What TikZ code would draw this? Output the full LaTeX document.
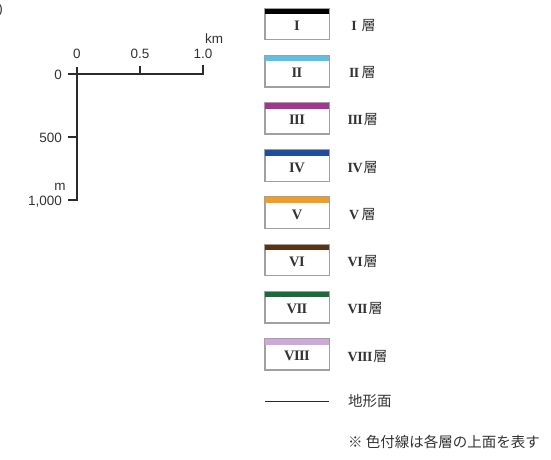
\documentclass[tikz,border=0pt]{standalone}
\usepackage{fontspec}
\setmainfont{Liberation Sans}
\newfontfamily\jp{Noto Sans CJK JP}
\newfontfamily\rom[LetterSpace=-4]{Liberation Serif}
\newsavebox\numbx
\newcommand\numcell[1]{\sbox\numbx{\rom\bfseries#1}\ifdim\wd\numbx<13pt\makebox[13pt][c]{\usebox\numbx}\else\usebox\numbx\fi}
\definecolor{axisgray}{HTML}{2B2B2B}
\definecolor{boxgray}{HTML}{A0A0A0}
\definecolor{txtgray}{HTML}{333333}
\definecolor{cI}{HTML}{000000}
\definecolor{cII}{HTML}{5BC2E7}
\definecolor{cIII}{HTML}{A2378F}
\definecolor{cIV}{HTML}{1F4E9F}
\definecolor{cV}{HTML}{EF9E22}
\definecolor{cVI}{HTML}{5A3216}
\definecolor{cVII}{HTML}{1A6B37}
\definecolor{cVIII}{HTML}{CDA9D9}
\begin{document}
\begin{tikzpicture}[x=1pt,y=-1pt,
  axis/.style={line width=1.3pt,draw=axisgray},
  ticklbl/.style={font=\fontsize{13.5}{13.5}\selectfont,text=txtgray,inner sep=0pt},
  legbox/.style={draw=boxgray,line width=0.8pt,minimum width=64pt,minimum height=31pt,inner sep=0pt,fill=white},
  boxlbl/.style={font=\rom\bfseries\fontsize{14.5}{14.5}\selectfont,text=txtgray,inner sep=0pt},
  leglbl/.style={font=\fontsize{14}{14}\selectfont,text=txtgray,anchor=west,inner sep=0pt},
  note/.style={font=\jp\fontsize{14.5}{14.5}\selectfont,text=txtgray,anchor=west,inner sep=0pt}]
\useasboundingbox (0,0) rectangle (551,459);
% cut-off mark at top left
\node[ticklbl,anchor=east] (cut) at (3,10) {)};
% axes
\coordinate (o) at (77,74);
\coordinate (vtop) at (77,67);
\coordinate (vbot) at (77,200);
\coordinate (vbottick) at (68,200);
\coordinate (hleft) at (68,74);
\coordinate (hright) at (203,74);
\coordinate (hrighttick) at (203,65);
\coordinate (hmid) at (140,74);
\coordinate (hmidtick) at (140,66);
\coordinate (v500) at (77,137);
\coordinate (v500tick) at (68,137);
\draw[axis] (vtop) -- (vbot) -- (vbottick);
\draw[axis] (hleft) -- (hright) -- (hrighttick);
\draw[axis] (hmid) -- (hmidtick);
\draw[axis] (v500) -- (v500tick);
\node[ticklbl] (x0) at (77,54) {0};
\node[ticklbl] (x05) at (140,54) {0.5};
\node[ticklbl] (x10) at (203,54) {1.0};
\node[ticklbl] (km) at (214,39) {km};
\node[ticklbl,anchor=east] (y0) at (62,75) {0};
\node[ticklbl,anchor=east] (y500) at (62,138) {500};
\node[ticklbl] (m) at (60,187) {m};
\node[ticklbl,anchor=east] (y1000) at (62,202) {1,000};
% legend
\foreach \k/\c/\n in {0/cI/I,1/cII/II,2/cIII/III,3/cIV/IV,4/cV/V,5/cVI/VI,6/cVII/VII,7/cVIII/VIII}{
  \pgfmathsetmacro{\t}{8.3+47.2*\k}
  \node[legbox] (box\k) at (297,\t+15.5) {};
  \fill[\c] (box\k.north west) rectangle ([yshift=-6.3pt]box\k.north east);
  \draw[boxgray,line width=0.8pt] (box\k.north west) rectangle (box\k.south east);
  \node[boxlbl] (bl\k) at (297,\t+17.5) {\n};
  \node[leglbl] (ll\k) at (347.5,\t+17.3) {\numcell{\n}\hspace{1pt}{\jp 層}};
}
\coordinate (gl) at (265,401);
\coordinate (gr) at (329,401);
\draw[line width=0.9pt,draw=axisgray] (gl) -- (gr);
\node[leglbl,font=\jp\fontsize{14.5}{14.5}\selectfont] (ground) at (348,401) {地形面};
\node[note] (nt) at (348,442) {※ 色付線は各層の上面を表す};
\end{tikzpicture}
\end{document}
